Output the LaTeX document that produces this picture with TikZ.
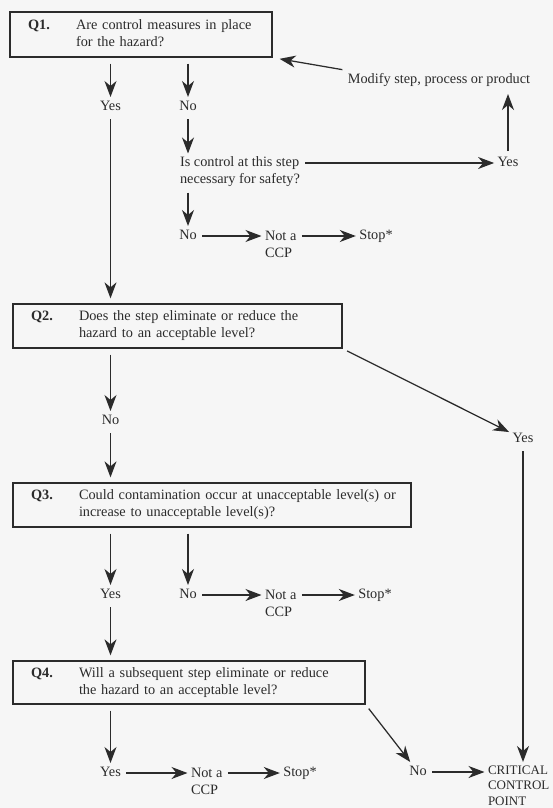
\documentclass[tikz,border=0pt]{standalone}
\usepackage{fontspec}
\setmainfont{Liberation Serif}
\usetikzlibrary{arrows.meta}
\setlength{\parindent}{0pt}
\definecolor{ink}{HTML}{2B2B2B}
\definecolor{paper}{HTML}{F6F6F6}
\newcommand{\ques}[2]{\makebox[66pt][l]{\hspace{18pt}\textbf{#1}}\begin{tabular}[t]{@{}l@{}}#2\end{tabular}}

\begin{document}
\begin{tikzpicture}[x=1pt, y=-1pt,
    every node/.style={font=\fontsize{14.3}{17}\selectfont, text=ink},
    qbox/.style={draw=ink, line width=1.3pt, rectangle, inner sep=0pt, align=left},
    lbl/.style={inner sep=2pt, outer sep=1.5pt, text height=10pt, text depth=3pt},
    mlbl/.style={inner sep=2pt, outer sep=1.5pt, align=left},
    arr/.style={draw=ink, line width=1.25pt, -{Stealth[length=16pt, width=12pt, inset=5pt]}, shorten <=2pt}]
    \useasboundingbox (0,0) rectangle (553,808);
    \fill[paper] (0,0) rectangle (553,808);

    % Q1
    \node[qbox, text width=262pt, minimum height=45pt] (q1) at (141,34.5) {\ques{Q1.}{Are control measures in place\\for the hazard?}};
    \node[lbl] (yes1) at (110.5,107) {Yes};
    \node[lbl] (no1) at (188,107) {No};
    \node[lbl] (modify) at (439,80) {Modify step, process or product};
    \node[mlbl, anchor=west] (isctrl) at (176.5,172) {Is control at this step\\necessary for safety?};
    \node[lbl] (yes2) at (508,163) {Yes};
    \node[lbl] (no2) at (188,236) {No};
    \node[mlbl, anchor=west] (nota1) at (261.5,244.5) {Not a\\CCP};
    \node[lbl] (stop1) at (376,236) {Stop*};

    % Q2
    \node[qbox, text width=329pt, minimum height=44pt] (q2) at (177.5,326) {\ques{Q2.}{Does the step eliminate or reduce the\\hazard to an acceptable level?}};
    \node[lbl] (no3) at (110.5,421) {No};
    \node[lbl] (yes3) at (523,439) {Yes};

    % Q3
    \node[qbox, text width=398pt, minimum height=44pt] (q3) at (212,505) {\ques{Q3.}{Could contamination occur at unacceptable level(s) or\\increase to unacceptable level(s)?}};
    \node[lbl] (yes4) at (110.5,595) {Yes};
    \node[lbl] (no4) at (188,595) {No};
    \node[mlbl, anchor=west] (nota2) at (261.5,603) {Not a\\CCP};
    \node[lbl] (stop2) at (375,595) {Stop*};

    % Q4
    \node[qbox, text width=352pt, minimum height=43pt] (q4) at (189,682.5) {\ques{Q4.}{Will a subsequent step eliminate or reduce\\the hazard to an acceptable level?}};
    \node[lbl] (yes5) at (110.5,773) {Yes};
    \node[mlbl, anchor=west] (nota3) at (187.5,781) {Not a\\CCP};
    \node[lbl] (stop3) at (300,773) {Stop*};
    \node[lbl] (no5) at (418,772) {No};
    \node[mlbl, anchor=north west, font=\fontsize{13}{15.5}\selectfont] (crit) at (484.5,762) {CRITICAL\\CONTROL\\POINT};

    % Arrows from Q1
    \draw[arr, shorten <=6pt] (q1.south -| yes1) -- (yes1);
    \draw[arr, shorten <=6pt] (q1.south -| no1) -- (no1);
    \draw[arr] (no1) -- (isctrl.north -| no1);
    \draw[arr] (yes2 -| isctrl.east) -- (yes2);
    \draw[arr, shorten >=4pt] (yes2) -- (modify.south -| yes2);
    \draw[arr, shorten >=7pt] (modify.north west) -- (q1.south east);
    \draw[arr] (isctrl.south -| no2) -- (no2);
    \draw[arr] (no2) -- (no2 -| nota1.west);
    \draw[arr] (stop1 -| nota1.east) -- (stop1);
    \draw[arr, shorten >=5pt] (yes1) -- (q2.north -| yes1);

    % Arrows from Q2
    \draw[arr, shorten <=6pt] (q2.south -| no3) -- (no3);
    \draw[arr, shorten >=5pt] (no3) -- (q3.north -| no3);
    \draw[arr, shorten <=5pt] (q2.south east) -- (yes3);
    \draw[arr] (yes3) -- (crit.north -| yes3);

    % Arrows from Q3
    \draw[arr, shorten <=6pt] (q3.south -| yes4) -- (yes4);
    \draw[arr, shorten <=6pt] (q3.south -| no4) -- (no4);
    \draw[arr] (no4) -- (no4 -| nota2.west);
    \draw[arr] (stop2 -| nota2.east) -- (stop2);
    \draw[arr, shorten >=5pt] (yes4) -- (q4.north -| yes4);

    % Arrows from Q4
    \draw[arr, shorten <=6pt] (q4.south -| yes5) -- (yes5);
    \draw[arr] (yes5) -- (yes5 -| nota3.west);
    \draw[arr] (stop3 -| nota3.east) -- (stop3);
    \draw[arr, shorten <=5pt] (q4.south east) -- (no5);
    \draw[arr] (no5) -- (no5 -| crit.west);
\end{tikzpicture}
\end{document}
